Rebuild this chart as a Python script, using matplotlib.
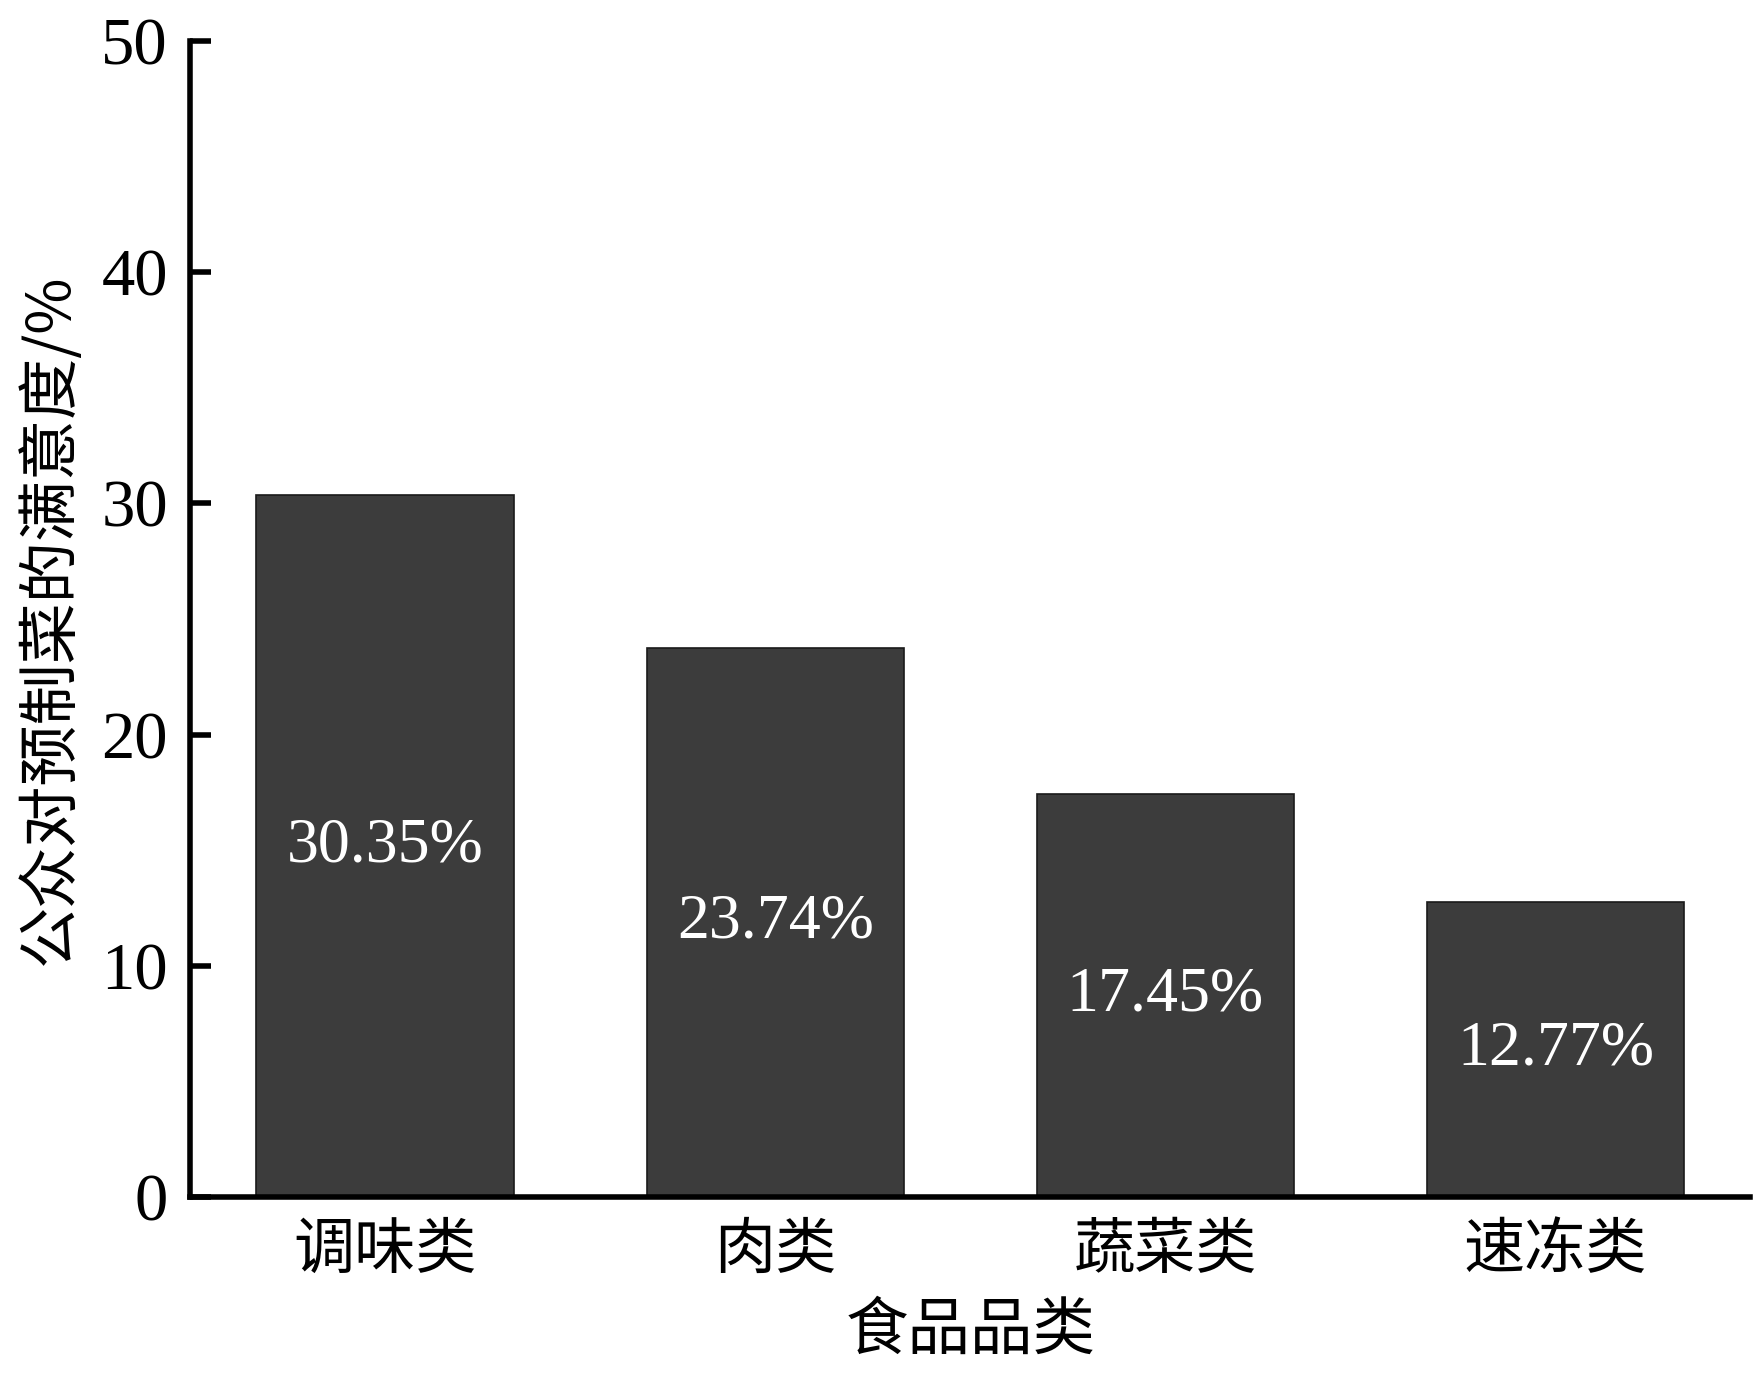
import matplotlib
matplotlib.use("Agg")
import matplotlib.pyplot as plt

categories = ["调味类", "肉类", "蔬菜类", "速冻类"]
values = [30.35, 23.74, 17.45, 12.77]
value_labels = ["30.35%", "23.74%", "17.45%", "12.77%"]
yticks = [0, 10, 20, 30, 40, 50]

SERIF = ["Liberation Serif", "Noto Sans CJK SC", "DejaVu Sans"]
CJK = ["Noto Sans CJK SC", "Liberation Serif", "DejaVu Sans"]
plt.rcParams["font.family"] = SERIF

fig = plt.figure(figsize=(17.61, 13.76), dpi=100)
ax = fig.add_axes([0.108, 0.1298, 0.886, 0.8407])

x = list(range(len(categories)))
bars = ax.bar(x, values, width=0.66, color="#3c3c3c", edgecolor="#1a1a1a", linewidth=1.2, zorder=2)

for xi, v, lab in zip(x, values, value_labels):
    ax.text(xi, v / 2, lab, ha="center", va="center", color="white",
            fontsize=46, family=SERIF, zorder=3)

ax.set_xlim(-0.5, 3.50)
ax.set_ylim(0, 50)
ax.set_yticks(yticks)
ax.set_yticklabels([str(t) for t in yticks], family=SERIF, fontsize=48)
ax.set_xticks(x)
ax.set_xticklabels(categories, family=CJK, fontsize=44)

ax.spines["top"].set_visible(False)
ax.spines["right"].set_visible(False)
ax.spines["left"].set_linewidth(4)
ax.spines["bottom"].set_linewidth(4)

ax.tick_params(axis="y", direction="in", length=15, width=4, pad=16)
ax.tick_params(axis="x", length=0, pad=16)

ax.set_ylabel("公众对预制菜的满意度/%", family=CJK, fontsize=44, labelpad=14)
ax.set_xlabel("食品品类", family=CJK, fontsize=45, labelpad=12)

fig.savefig("out.png", dpi=100, facecolor="white")
